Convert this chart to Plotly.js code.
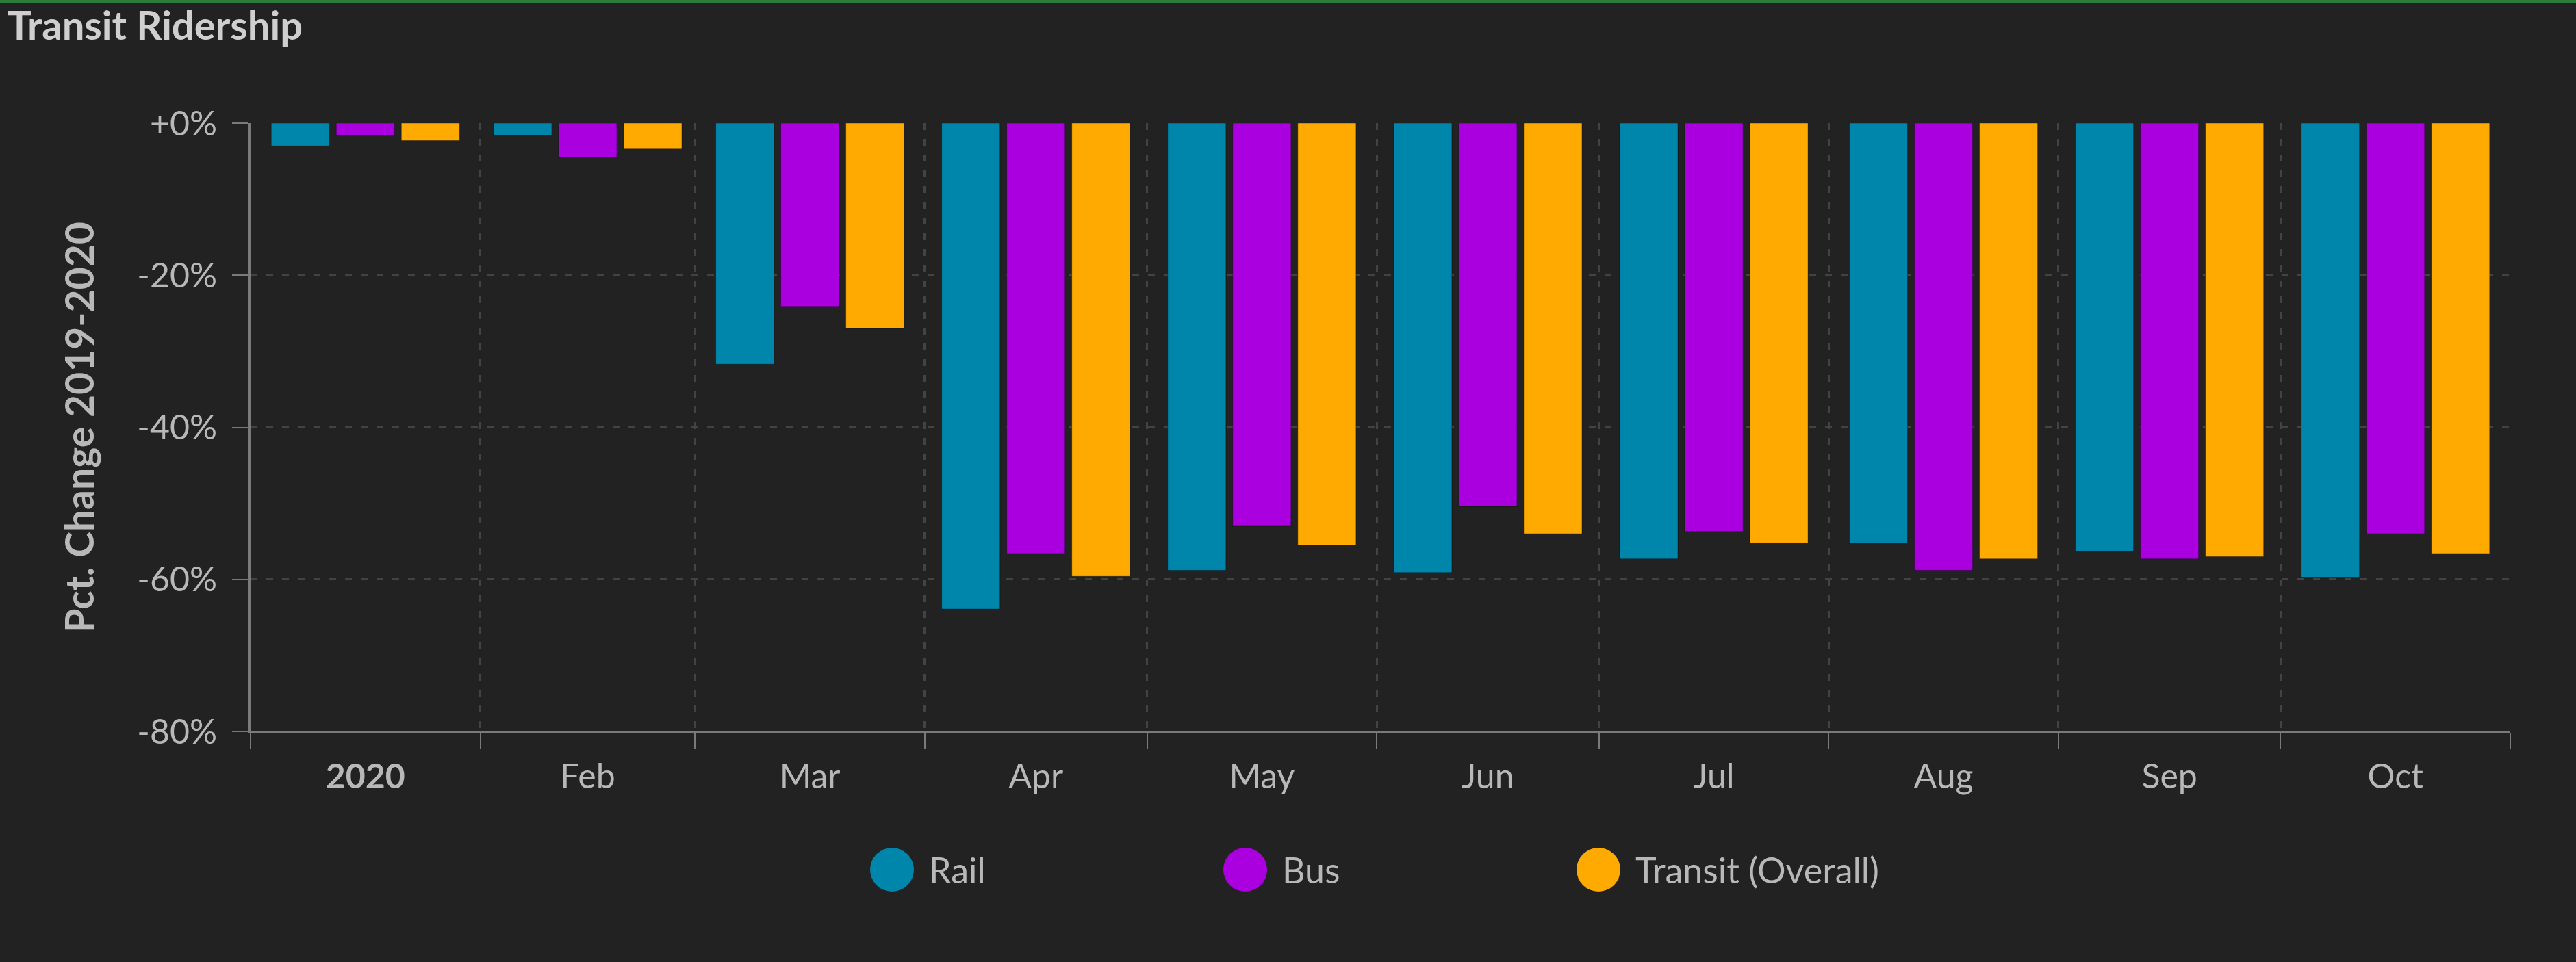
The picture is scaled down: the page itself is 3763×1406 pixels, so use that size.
<!DOCTYPE html>
<html>
<head>
<meta charset="utf-8">
<script src="https://cdn.plot.ly/plotly-3.0.1.min.js"></script>
<style>
html,body{margin:0;padding:0;background:#222222;}
#chart{width:3763px;height:1406px;}
</style>
</head>
<body>
<div id="chart"></div>
<script>
// ---- data ----
const months = ['2020-01','2020-02','2020-03','2020-04','2020-05','2020-06','2020-07','2020-08','2020-09','2020-10'];
const monthLabels = ['2020','Feb','Mar','Apr','May','Jun','Jul','Aug','Sep','Oct'];
const seriesNames = ['Rail','Bus','Transit (Overall)'];
const rail    = [-3.0, -1.6, -31.7, -63.9, -58.8, -59.1, -57.3, -55.2, -56.3, -59.8];
const bus     = [-1.6, -4.5, -24.1, -56.6, -53.0, -50.4, -53.7, -58.8, -57.3, -54.0];
const transit = [-2.3, -3.4, -27.0, -59.6, -55.5, -54.0, -55.2, -57.3, -57.0, -56.6];
const yTickVals = [0, -20, -40, -60, -80];
const yTickLabels = ['+0%', '-20%', '-40%', '-60%', '-80%'];

// ---- styles ----
const colors = ['#0086ab', '#aa00e0', '#ffaa00'];
const W = 3763, H = 1406;
const M = {l: 366, r: 96, t: 180, b: 337};
const plotW = W - M.l - M.r, plotH = H - M.t - M.b;
const FONT = 'Lato, "Open Sans", sans-serif';
const textColor = '#b8b8b8';
const axisColor = '#7a7a7a';
const gridColor = '#434343';

// helpers derived from month strings
function monthStart(m, add) {
  const [y, mo] = m.split('-').map(Number);
  return Date.UTC(y, mo - 1 + (add || 0), 1);
}
function fmt(ms) { return new Date(ms).toISOString().replace('T', ' ').slice(0, 19); }
const xStart = fmt(monthStart(months[0]));
const xEnd = fmt(monthStart(months[months.length - 1], 1));
const midTicks = months.map(m => fmt((monthStart(m) + monthStart(m, 1)) / 2));
const tickText = monthLabels.map((t, i) => i === 0 ? '<b>' + t + '</b>' : t);

const seriesValues = [rail, bus, transit];
const traces = seriesValues.map((vals, i) => ({
  type: 'bar',
  name: seriesNames[i],
  x: months,
  y: vals,
  xperiod: 'M1',
  xperiodalignment: 'middle',
  marker: {color: colors[i], line: {width: 1, color: 'rgba(0,0,0,0.35)'}},
  showlegend: false,
  hovertemplate: '%{y:.1f}%<extra>' + seriesNames[i] + '</extra>'
}));

// manual legend (big round swatches)
const legStartPx = 1271, legStepPx = 516, legD = 64, legCyPx = 1271, legTextGap = 20;
const px2x = px => (px - M.l) / plotW;
const py2y = py => (H - M.b - py) / plotH;
const shapes = [];
const annotations = [];
seriesNames.forEach((name, i) => {
  const left = legStartPx + i * legStepPx;
  shapes.push({
    type: 'circle', xref: 'paper', yref: 'paper',
    xsizemode: 'pixel', ysizemode: 'pixel',
    xanchor: px2x(left + legD / 2), yanchor: py2y(legCyPx),
    x0: -legD / 2, x1: legD / 2, y0: -legD / 2, y1: legD / 2,
    fillcolor: colors[i], line: {width: 0}
  });
  annotations.push({
    xref: 'paper', yref: 'paper',
    x: px2x(left + legD + legTextGap), y: py2y(legCyPx),
    xanchor: 'left', yanchor: 'middle', showarrow: false,
    text: name, font: {family: FONT, size: 52, color: textColor}
  });
});
// green top strip
shapes.push({
  type: 'rect', xref: 'paper', yref: 'paper', layer: 'above',
  x0: px2x(0), x1: px2x(W), y0: py2y(4), y1: py2y(0),
  fillcolor: '#2b7b3b', line: {width: 0}
});

const layout = {
  width: W, height: H,
  margin: M,
  paper_bgcolor: '#222222',
  plot_bgcolor: '#222222',
  font: {family: FONT, color: textColor},
  title: {
    text: 'Transit Ridership',
    xref: 'container', yref: 'container',
    x: 11 / W, xanchor: 'left',
    y: 1 - 17 / H, yanchor: 'top',
    font: {family: FONT, size: 58, color: '#cfcfcf', weight: 'bold'}
  },
  barmode: 'group',
  bargap: 0.122,
  bargroupgap: 0.105,
  showlegend: false,
  xaxis: {
    type: 'date',
    range: [xStart, xEnd],
    tickmode: 'array',
    tickvals: midTicks,
    ticktext: tickText,
    ticks: '',
    showgrid: false,
    zeroline: false,
    showline: true,
    linecolor: axisColor,
    linewidth: 3,
    tickfont: {family: FONT, size: 50, color: textColor},
    ticklabelstandoff: 20,
    minor: {
      dtick: 'M1', tick0: xStart,
      ticks: 'outside', ticklen: 22, tickwidth: 2, tickcolor: axisColor,
      showgrid: true, gridcolor: gridColor, griddash: '10px,13px', gridwidth: 3
    },
    fixedrange: true
  },
  yaxis: {
    range: [-80, 0],
    tickmode: 'array',
    tickvals: yTickVals,
    ticktext: yTickLabels,
    ticks: 'outside', ticklen: 24, tickwidth: 2, tickcolor: axisColor,
    showline: true, linecolor: axisColor, linewidth: 3,
    showgrid: true, gridcolor: gridColor, griddash: '10px,13px', gridwidth: 3,
    zeroline: false,
    tickfont: {family: FONT, size: 50, color: textColor},
    ticklabelstandoff: 12,
    title: {
      text: 'Pct. Change 2019-2020',
      font: {family: FONT, size: 57, color: textColor, weight: 'bold'},
      standoff: 45
    },
    fixedrange: true
  },
  shapes: shapes,
  annotations: annotations
};

Plotly.newPlot('chart', traces, layout, {displayModeBar: false, staticPlot: true});
</script>
</body>
</html>
